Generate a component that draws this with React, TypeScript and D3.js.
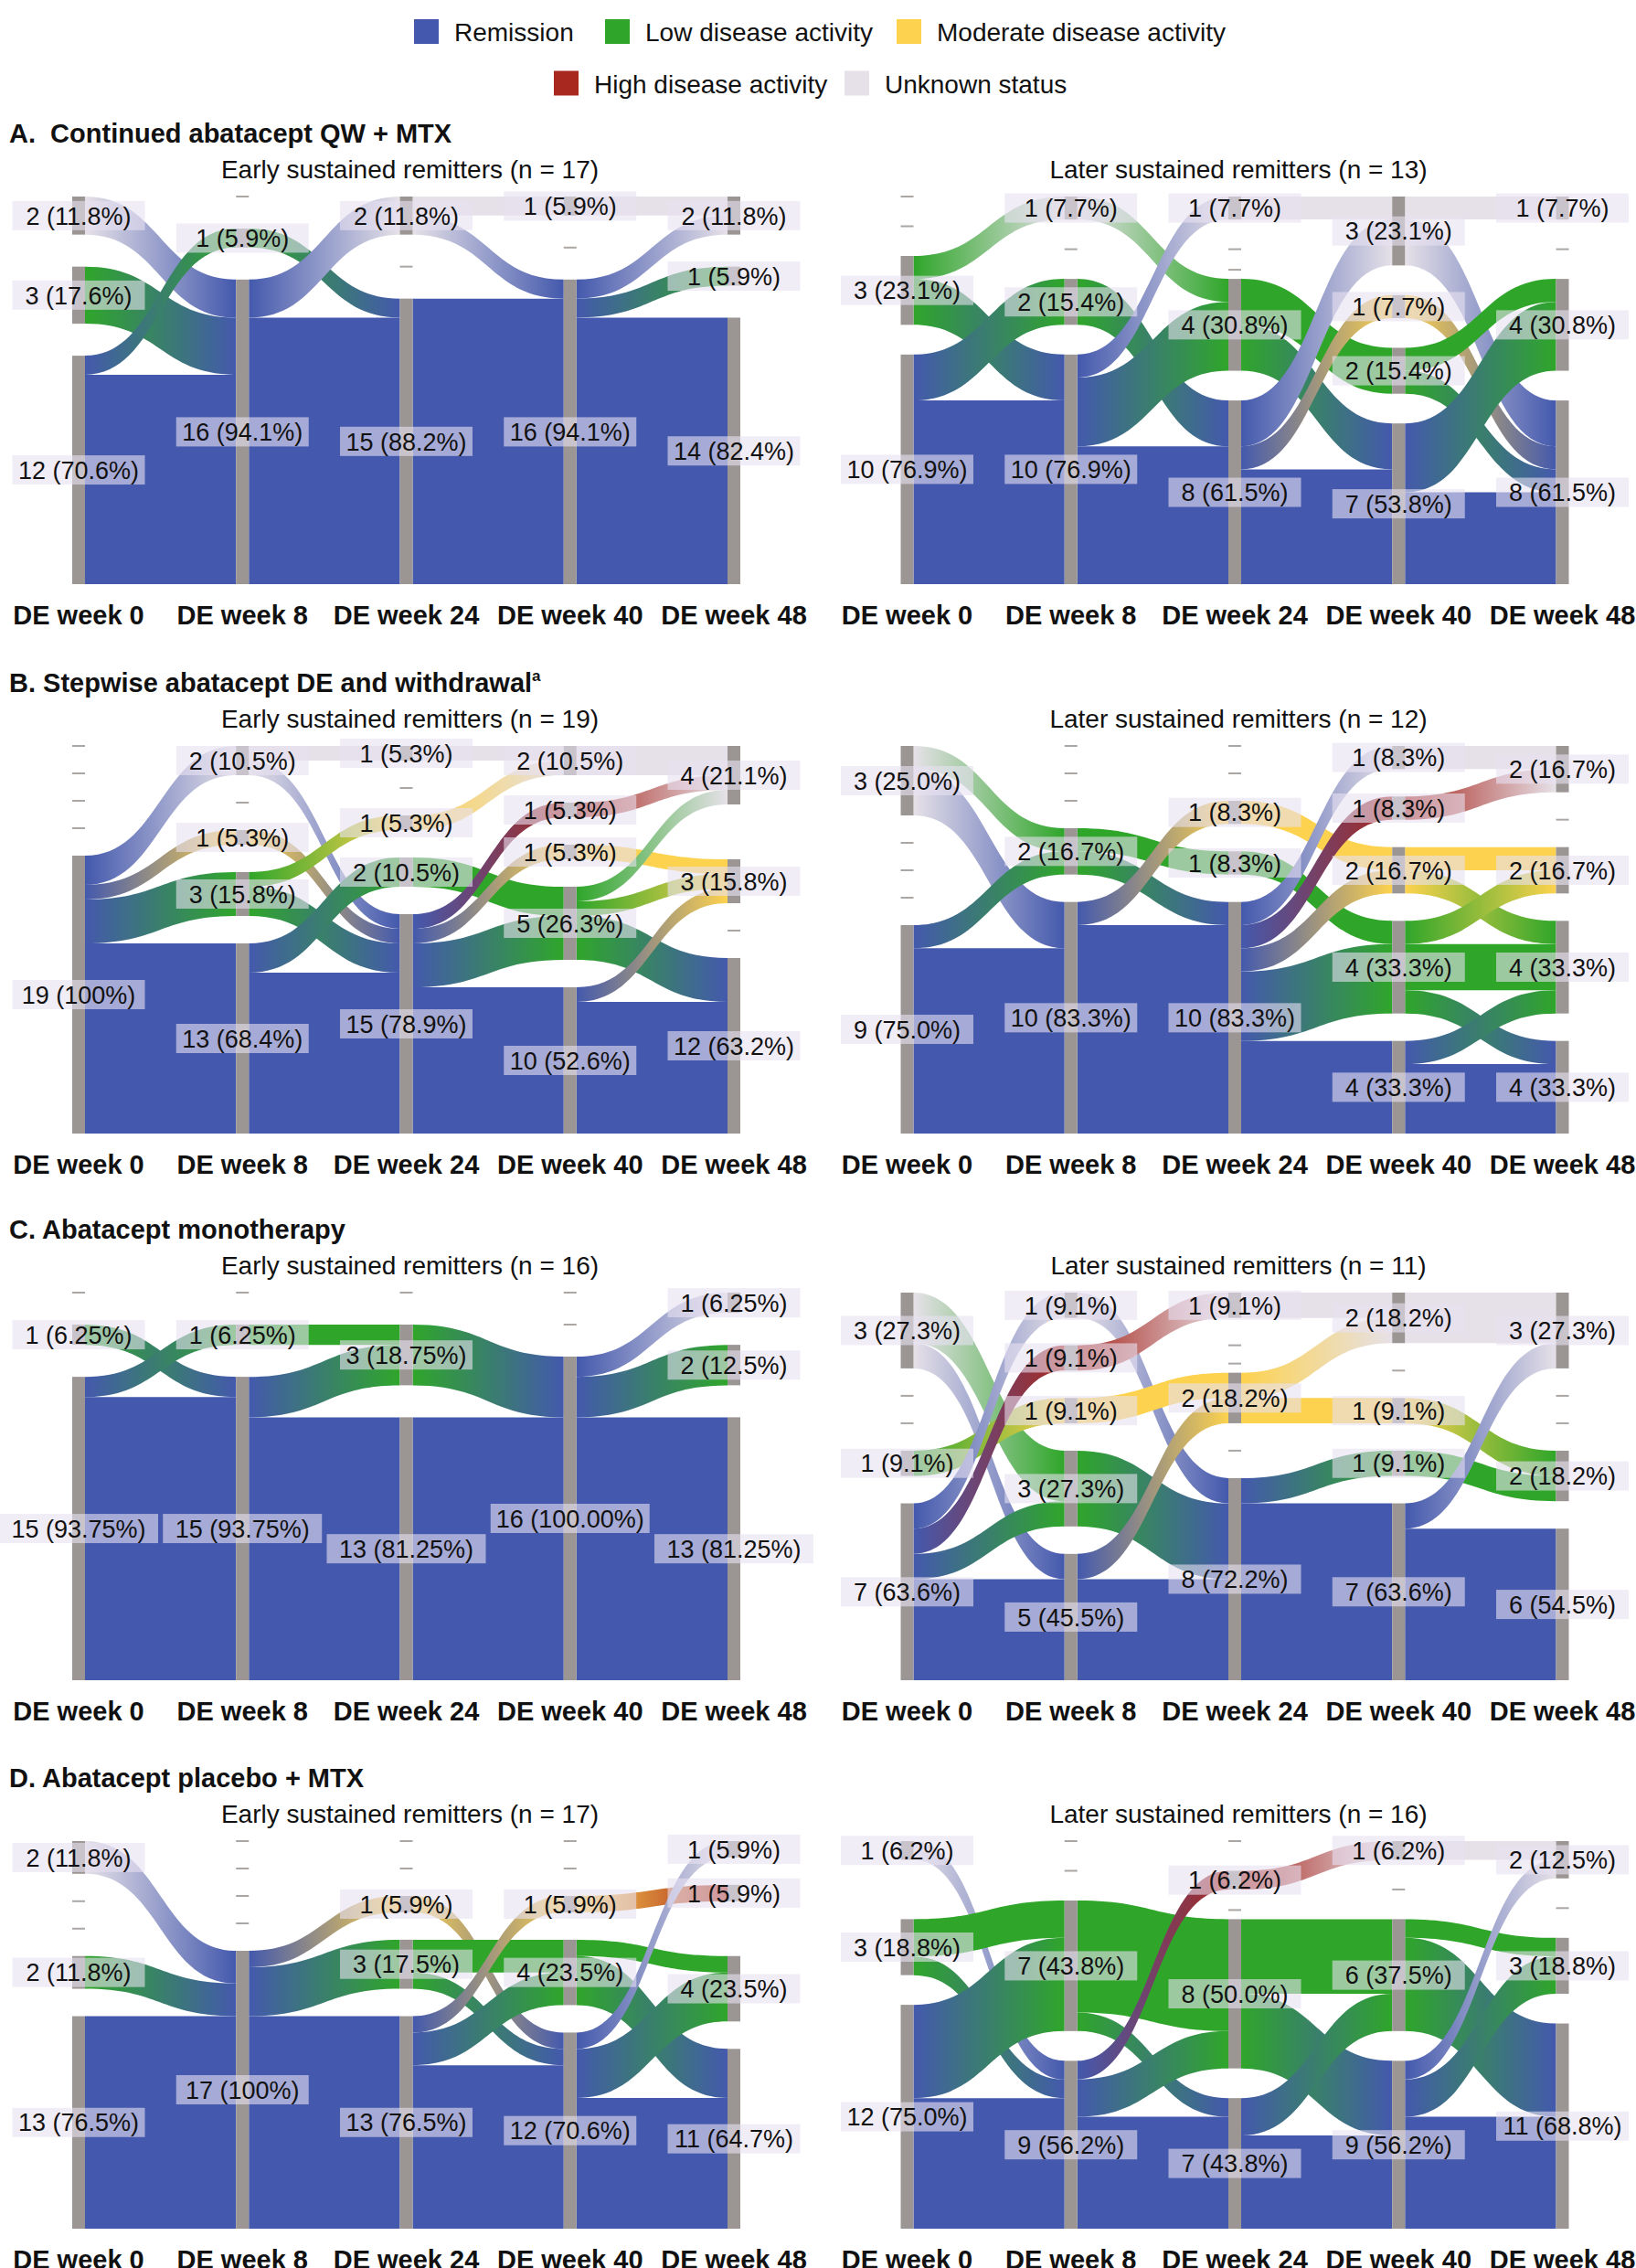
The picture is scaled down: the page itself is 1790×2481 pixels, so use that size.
import React from 'react';
import * as d3 from 'd3';

type Cat = 'U' | 'H' | 'M' | 'L' | 'R';
type LinkRow = [number, Cat, Cat, number];

// ---------- categories, colours, legend ----------
const CATEGORY_COLORS: Record<Cat, string> = {
  U: '#e6e1e8',
  H: '#a8281f',
  M: '#fdd24e',
  L: '#2fa62a',
  R: '#4459ad',
};
const LEGEND_CATS: Cat[] = ['R', 'L', 'M', 'H', 'U'];
const LEGEND_LABELS = [
  'Remission',
  'Low disease activity',
  'Moderate disease activity',
  'High disease activity',
  'Unknown status',
];
const WEEKS = ['DE week 0', 'DE week 8', 'DE week 24', 'DE week 40', 'DE week 48'];

// ---------- Panel A ----------
const A_EARLY_CATS: Cat[] = ['U', 'L', 'R'];
const A_EARLY_COUNTS = [[2, 3, 12], [0, 1, 16], [2, 0, 15], [1, 0, 16], [2, 1, 14]];
const A_EARLY_PCTS = [
  ['11.8', '17.6', '70.6'], [null, '5.9', '94.1'], ['11.8', null, '88.2'],
  ['5.9', null, '94.1'], ['11.8', '5.9', '82.4'],
];
const A_EARLY_LINKS: LinkRow[] = [
  [0, 'U', 'R', 2], [0, 'L', 'R', 3], [0, 'R', 'L', 1], [0, 'R', 'R', 11],
  [1, 'L', 'R', 1], [1, 'R', 'U', 2], [1, 'R', 'R', 14],
  [2, 'U', 'U', 1], [2, 'U', 'R', 1], [2, 'R', 'R', 15],
  [3, 'U', 'U', 1], [3, 'R', 'U', 1], [3, 'R', 'L', 1], [3, 'R', 'R', 14],
];

const A_LATER_CATS: Cat[] = ['U', 'M', 'L', 'R'];
const A_LATER_COUNTS = [[0, 0, 3, 10], [1, 0, 2, 10], [1, 0, 4, 8], [3, 1, 2, 7], [1, 0, 4, 8]];
const A_LATER_PCTS = [
  [null, null, '23.1', '76.9'], ['7.7', null, '15.4', '76.9'], ['7.7', null, '30.8', '61.5'],
  ['23.1', '7.7', '15.4', '53.8'], ['7.7', null, '30.8', '61.5'],
];
const A_LATER_LINKS: LinkRow[] = [
  [0, 'L', 'U', 1], [0, 'L', 'R', 2], [0, 'R', 'L', 2], [0, 'R', 'R', 8],
  [1, 'U', 'L', 1], [1, 'L', 'R', 2], [1, 'R', 'U', 1], [1, 'R', 'L', 3], [1, 'R', 'R', 6],
  [2, 'U', 'U', 1], [2, 'L', 'L', 2], [2, 'L', 'R', 2], [2, 'R', 'U', 2], [2, 'R', 'M', 1], [2, 'R', 'R', 5],
  [3, 'U', 'U', 1], [3, 'U', 'R', 2], [3, 'M', 'R', 1], [3, 'L', 'L', 1], [3, 'L', 'R', 1], [3, 'R', 'L', 3], [3, 'R', 'R', 4],
];

// ---------- Panel B ----------
const B_EARLY_CATS: Cat[] = ['U', 'H', 'M', 'L', 'R'];
const B_EARLY_COUNTS = [[0, 0, 0, 0, 19], [2, 0, 1, 3, 13], [1, 0, 1, 2, 15], [2, 1, 1, 5, 10], [4, null, 3, 0, 12]];
const B_EARLY_PCTS = [
  [null, null, null, null, '100'], ['10.5', null, '5.3', '15.8', '68.4'], ['5.3', null, '5.3', '10.5', '78.9'],
  ['10.5', '5.3', '5.3', '26.3', '52.6'], ['21.1', null, '15.8', null, '63.2'],
];
const B_EARLY_LINKS: LinkRow[] = [
  [0, 'R', 'U', 2], [0, 'R', 'M', 1], [0, 'R', 'L', 3], [0, 'R', 'R', 13],
  [1, 'U', 'U', 1], [1, 'U', 'R', 1], [1, 'M', 'R', 1], [1, 'L', 'M', 1], [1, 'L', 'R', 2], [1, 'R', 'L', 2], [1, 'R', 'R', 11],
  [2, 'U', 'U', 1], [2, 'M', 'U', 1], [2, 'L', 'L', 2], [2, 'R', 'H', 1], [2, 'R', 'M', 1], [2, 'R', 'L', 3], [2, 'R', 'R', 10],
  [3, 'U', 'U', 2], [3, 'H', 'U', 1], [3, 'M', 'M', 1], [3, 'L', 'U', 1], [3, 'L', 'M', 1], [3, 'L', 'R', 3], [3, 'R', 'M', 1], [3, 'R', 'R', 9],
];

const B_LATER_CATS: Cat[] = ['U', 'H', 'M', 'L', 'R'];
const B_LATER_COUNTS = [[3, 0, 0, 0, 9], [0, 0, 0, 2, 10], [0, 0, 1, 1, 10], [1, 1, 2, 4, 4], [2, 0, 2, 4, 4]];
const B_LATER_PCTS = [
  ['25.0', null, null, null, '75.0'], [null, null, null, '16.7', '83.3'], [null, null, '8.3', '8.3', '83.3'],
  ['8.3', '8.3', '16.7', '33.3', '33.3'], ['16.7', null, '16.7', '33.3', '33.3'],
];
const B_LATER_LINKS: LinkRow[] = [
  [0, 'U', 'L', 1], [0, 'U', 'R', 2], [0, 'R', 'L', 1], [0, 'R', 'R', 8],
  [1, 'L', 'L', 1], [1, 'L', 'R', 1], [1, 'R', 'M', 1], [1, 'R', 'R', 9],
  [2, 'M', 'M', 1], [2, 'L', 'L', 1], [2, 'R', 'U', 1], [2, 'R', 'H', 1], [2, 'R', 'M', 1], [2, 'R', 'L', 3], [2, 'R', 'R', 4],
  [3, 'U', 'U', 1], [3, 'H', 'U', 1], [3, 'M', 'M', 1], [3, 'M', 'L', 1], [3, 'L', 'M', 1], [3, 'L', 'L', 2], [3, 'L', 'R', 1], [3, 'R', 'L', 1], [3, 'R', 'R', 3],
];

// ---------- Panel C ----------
const C_EARLY_CATS: Cat[] = ['U', 'L', 'R'];
const C_EARLY_COUNTS = [[0, 1, 15], [0, 1, 15], [0, 3, 13], [0, 0, 16], [1, 2, 13]];
const C_EARLY_PCTS = [
  [null, '6.25', '93.75'], [null, '6.25', '93.75'], [null, '18.75', '81.25'],
  [null, null, '100.00'], ['6.25', '12.5', '81.25'],
];
const C_EARLY_LINKS: LinkRow[] = [
  [0, 'L', 'R', 1], [0, 'R', 'L', 1], [0, 'R', 'R', 14],
  [1, 'L', 'L', 1], [1, 'R', 'L', 2], [1, 'R', 'R', 13],
  [2, 'L', 'R', 3], [2, 'R', 'R', 13],
  [3, 'R', 'U', 1], [3, 'R', 'L', 2], [3, 'R', 'R', 13],
];

const C_LATER_CATS: Cat[] = ['U', 'H', 'M', 'L', 'R'];
const C_LATER_COUNTS = [[3, 0, 0, 1, 7], [1, 1, 1, 3, 5], [1, 0, 2, 0, 8], [2, 0, 1, 1, 7], [3, 0, 0, 2, 6]];
const C_LATER_PCTS = [
  ['27.3', null, null, '9.1', '63.6'], ['9.1', '9.1', '9.1', '27.3', '45.5'], ['9.1', null, '18.2', null, '72.2'],
  ['18.2', null, '9.1', '9.1', '63.6'], ['27.3', null, null, '18.2', '54.5'],
];
const C_LATER_LINKS: LinkRow[] = [
  [0, 'U', 'L', 2], [0, 'U', 'R', 1], [0, 'L', 'M', 1], [0, 'R', 'U', 1], [0, 'R', 'H', 1], [0, 'R', 'L', 1], [0, 'R', 'R', 4],
  [1, 'U', 'R', 1], [1, 'H', 'U', 1], [1, 'M', 'M', 1], [1, 'L', 'R', 3], [1, 'R', 'M', 1], [1, 'R', 'R', 4],
  [2, 'U', 'U', 1], [2, 'M', 'U', 1], [2, 'M', 'M', 1], [2, 'R', 'L', 1], [2, 'R', 'R', 7],
  [3, 'U', 'U', 2], [3, 'M', 'L', 1], [3, 'L', 'L', 1], [3, 'R', 'U', 1], [3, 'R', 'R', 6],
];

// ---------- Panel D ----------
const D_EARLY_CATS: Cat[] = ['U', 'H', 'M', 'L', 'R'];
const D_EARLY_COUNTS = [[2, 0, 0, 2, 13], [0, 0, 0, 0, 17], [0, 0, 1, 3, 13], [0, 0, 1, 4, 12], [1, 1, null, 4, 11]];
const D_EARLY_PCTS = [
  ['11.8', null, null, '11.8', '76.5'], [null, null, null, null, '100'], [null, null, '5.9', '17.5', '76.5'],
  [null, null, '5.9', '23.5', '70.6'], ['5.9', '5.9', null, '23.5', '64.7'],
];
const D_EARLY_LINKS: LinkRow[] = [
  [0, 'U', 'R', 2], [0, 'L', 'R', 2], [0, 'R', 'R', 13],
  [1, 'R', 'M', 1], [1, 'R', 'L', 3], [1, 'R', 'R', 13],
  [2, 'M', 'R', 1], [2, 'L', 'L', 2], [2, 'L', 'R', 1], [2, 'R', 'M', 1], [2, 'R', 'L', 2], [2, 'R', 'R', 10],
  [3, 'M', 'H', 1], [3, 'L', 'L', 1], [3, 'L', 'R', 3], [3, 'R', 'U', 1], [3, 'R', 'L', 3], [3, 'R', 'R', 8],
];

const D_LATER_CATS: Cat[] = ['U', 'H', 'L', 'R'];
const D_LATER_COUNTS = [[1, null, 3, 12], [0, 0, 7, 9], [0, 1, 8, 7], [1, 0, 6, 9], [2, 0, 3, 11]];
const D_LATER_PCTS = [
  ['6.2', null, '18.8', '75.0'], [null, null, '43.8', '56.2'], [null, '6.2', '50.0', '43.8'],
  ['6.2', null, '37.5', '56.2'], ['12.5', null, '18.8', '68.8'],
];
const D_LATER_LINKS: LinkRow[] = [
  [0, 'U', 'R', 1], [0, 'L', 'L', 2], [0, 'L', 'R', 1], [0, 'R', 'L', 5], [0, 'R', 'R', 7],
  [1, 'L', 'L', 6], [1, 'L', 'R', 1], [1, 'R', 'H', 1], [1, 'R', 'L', 2], [1, 'R', 'R', 6],
  [2, 'H', 'U', 1], [2, 'L', 'L', 4], [2, 'L', 'R', 4], [2, 'R', 'L', 2], [2, 'R', 'R', 5],
  [3, 'U', 'U', 1], [3, 'L', 'L', 1], [3, 'L', 'R', 5], [3, 'R', 'U', 1], [3, 'R', 'L', 2], [3, 'R', 'R', 6],
];

const PANEL_TITLES = [
  'A.\u00a0 Continued abatacept QW + MTX',
  'B. Stepwise abatacept DE and withdrawal',
  'C. Abatacept monotherapy',
  'D. Abatacept placebo + MTX',
];

interface PanelSpec {
  row: number;
  side: number;
  subtitle: string;
  cats: Cat[];
  counts: (number | null)[][];
  pcts: (string | null)[][];
  links: LinkRow[];
  extra?: { col: number; before: Cat };
}

const PANELS: PanelSpec[] = [
  { row: 0, side: 0, subtitle: 'Early sustained remitters (n = 17)', cats: A_EARLY_CATS, counts: A_EARLY_COUNTS, pcts: A_EARLY_PCTS, links: A_EARLY_LINKS },
  { row: 0, side: 1, subtitle: 'Later sustained remitters (n = 13)', cats: A_LATER_CATS, counts: A_LATER_COUNTS, pcts: A_LATER_PCTS, links: A_LATER_LINKS, extra: { col: 2, before: 'L' } },
  { row: 1, side: 0, subtitle: 'Early sustained remitters (n = 19)', cats: B_EARLY_CATS, counts: B_EARLY_COUNTS, pcts: B_EARLY_PCTS, links: B_EARLY_LINKS },
  { row: 1, side: 1, subtitle: 'Later sustained remitters (n = 12)', cats: B_LATER_CATS, counts: B_LATER_COUNTS, pcts: B_LATER_PCTS, links: B_LATER_LINKS },
  { row: 2, side: 0, subtitle: 'Early sustained remitters (n = 16)', cats: C_EARLY_CATS, counts: C_EARLY_COUNTS, pcts: C_EARLY_PCTS, links: C_EARLY_LINKS },
  { row: 2, side: 1, subtitle: 'Later sustained remitters (n = 11)', cats: C_LATER_CATS, counts: C_LATER_COUNTS, pcts: C_LATER_PCTS, links: C_LATER_LINKS, extra: { col: 2, before: 'M' } },
  { row: 3, side: 0, subtitle: 'Early sustained remitters (n = 17)', cats: D_EARLY_CATS, counts: D_EARLY_COUNTS, pcts: D_EARLY_PCTS, links: D_EARLY_LINKS },
  { row: 3, side: 1, subtitle: 'Later sustained remitters (n = 16)', cats: D_LATER_CATS, counts: D_LATER_COUNTS, pcts: D_LATER_PCTS, links: D_LATER_LINKS, extra: { col: 2, before: 'L' } },
];

// ---------- layout constants ----------
const W = 1790;
const HGT = 2481;
const PANEL_TOPS = [215, 816, 1414, 2014];
const PANEL_H = 424;
const SIDE_OFFSET = [0, 906.5];
const COL_RANGE: [number, number] = [86, 803];
const NODE_W = 14;
const FONT = '"Liberation Sans", Arial, Helvetica, sans-serif';
const NODE_GRAY = '#9b9694';

interface NodeT {
  c: number; cat: Cat; value: number; shown: boolean;
  x0: number; x1: number; y0: number; y1: number; pct: string | null;
  out: LinkT[]; inn: LinkT[];
}
interface LinkT { source: NodeT; target: NodeT; value: number; width: number; sy: number; ty: number; }

function Panel({ p, idx }: { p: PanelSpec; idx: number }) {
  const top = PANEL_TOPS[p.row];
  const off = SIDE_OFFSET[p.side];
  const x = d3.scalePoint<string>().domain(WEEKS).range([COL_RANGE[0] + off, COL_RANGE[1] + off]);
  const k = p.cats.length;
  const gap = 35 - 2.5 * (k - 3);
  const total = d3.sum(p.counts[0], (d) => d ?? 0);
  const h = d3.scaleLinear().domain([0, total]).range([0, PANEL_H - (k - 1) * gap]);

  const nodes: NodeT[][] = p.counts.map((col, c) => {
    let y = top;
    const cx = x(WEEKS[c]) as number;
    return p.cats.map((cat, i) => {
      const v = col[i];
      const n: NodeT = {
        c, cat, value: v ?? 0, shown: v !== null,
        x0: cx - NODE_W / 2, x1: cx + NODE_W / 2,
        y0: y, y1: y + h(v ?? 0), pct: p.pcts[c][i], out: [], inn: [],
      };
      y = n.y1 + gap;
      return n;
    });
  });

  const links: LinkT[] = p.links.map(([t, s, g, v]) => {
    const l: LinkT = {
      source: nodes[t][p.cats.indexOf(s)],
      target: nodes[t + 1][p.cats.indexOf(g)],
      value: v, width: h(v), sy: 0, ty: 0,
    };
    l.source.out.push(l);
    l.target.inn.push(l);
    return l;
  });
  nodes.flat().forEach((n) => {
    let y = n.y0;
    n.out.sort((a, b) => a.target.y0 - b.target.y0).forEach((l) => { l.sy = y; y += l.width; });
    y = n.y0;
    n.inn.sort((a, b) => a.source.y0 - b.source.y0).forEach((l) => { l.ty = y; y += l.width; });
  });

  const linkPath = (l: LinkT) => {
    const x0 = l.source.x1;
    const x1 = l.target.x0;
    const xm = (x0 + x1) / 2;
    const pth = d3.path();
    pth.moveTo(x0, l.sy);
    pth.bezierCurveTo(xm, l.sy, xm, l.ty, x1, l.ty);
    pth.lineTo(x1, l.ty + l.width);
    pth.bezierCurveTo(xm, l.ty + l.width, xm, l.sy + l.width, x0, l.sy + l.width);
    pth.closePath();
    return pth.toString();
  };

  const extraNode = p.extra ? nodes[p.extra.col][p.cats.indexOf(p.extra.before)] : null;
  const centerX = (COL_RANGE[0] + COL_RANGE[1]) / 2 + off + 4;

  return (
    <g>
      <defs>
        {links.map((l, i) => (
          <linearGradient key={i} id={`g${idx}_${i}`} gradientUnits="userSpaceOnUse"
            x1={l.source.x1} x2={l.target.x0} y1={0} y2={0}>
            <stop offset="0%" stopColor={CATEGORY_COLORS[l.source.cat]} />
            <stop offset="100%" stopColor={CATEGORY_COLORS[l.target.cat]} />
          </linearGradient>
        ))}
      </defs>
      {p.side === 0 && (
        <text x={10} y={top - 59} fontSize={29} fontWeight="bold" fill="#111">
          {PANEL_TITLES[p.row]}
          {p.row === 1 && <tspan fontSize={17} dy={-12}>a</tspan>}
        </text>
      )}
      <text x={centerX} y={top - 20} fontSize={28} textAnchor="middle" fill="#111">{p.subtitle}</text>
      {links.map((l, i) => (
        <path key={i} d={linkPath(l)} fill={`url(#g${idx}_${i})`} />
      ))}
      {nodes.flat().filter((n) => n.value > 0).map((n, i) => (
        <rect key={i} x={n.x0} y={n.y0} width={NODE_W} height={n.y1 - n.y0} fill={NODE_GRAY} />
      ))}
      {nodes.flat().filter((n) => n.value === 0 && n.shown).map((n, i) => (
        <rect key={i} x={n.x0} y={n.y0 - 1} width={NODE_W} height={2} fill="#aaa6a4" />
      ))}
      {extraNode && (
        <rect x={extraNode.x0} y={extraNode.y0 - 11} width={NODE_W} height={2} fill="#aaa6a4" />
      )}
      {nodes.flat().filter((n) => n.value > 0).map((n, i) => {
        const label = `${n.value} (${n.pct}%)`;
        const bw = label.length <= 10 ? 145 : 174;
        const cx = (n.x0 + n.x1) / 2;
        const cy = (n.y0 + n.y1) / 2;
        return (
          <g key={i}>
            <rect x={cx - bw / 2} y={cy - 16} width={bw} height={32} fill="#e7e1f1" fillOpacity={0.6} />
            <text x={cx} y={cy} dy="0.36em" fontSize={27} textAnchor="middle" fill="#111">{label}</text>
          </g>
        );
      })}
      {WEEKS.map((w) => (
        <text key={w} x={x(w)} y={top + PANEL_H + 44} fontSize={29} fontWeight="bold" textAnchor="middle" fill="#111">{w}</text>
      ))}
    </g>
  );
}

const LEGEND_ROWS = [
  { y: 21, items: [0, 1, 2], xs: [453, 662, 981] },
  { y: 77.5, items: [3, 4], xs: [606, 924] },
];

export default function App() {
  return (
    <svg width={W} height={HGT} viewBox={`0 0 ${W} ${HGT}`}
      style={{ position: 'absolute', left: 0, top: 0, display: 'block', background: '#fff' }}
      fontFamily={FONT}>
      <rect x={0} y={0} width={W} height={HGT} fill="#fff" />
      {LEGEND_ROWS.map((row, ri) => (
        <g key={ri}>
          {row.items.map((it, j) => (
            <g key={it}>
              <rect x={row.xs[j]} y={row.y} width={27} height={27} fill={CATEGORY_COLORS[LEGEND_CATS[it]]} />
              <text x={row.xs[j] + 44} y={row.y + 24} fontSize={28} fill="#111">{LEGEND_LABELS[it]}</text>
            </g>
          ))}
        </g>
      ))}
      {PANELS.map((p, i) => (
        <Panel key={i} p={p} idx={i} />
      ))}
    </svg>
  );
}
